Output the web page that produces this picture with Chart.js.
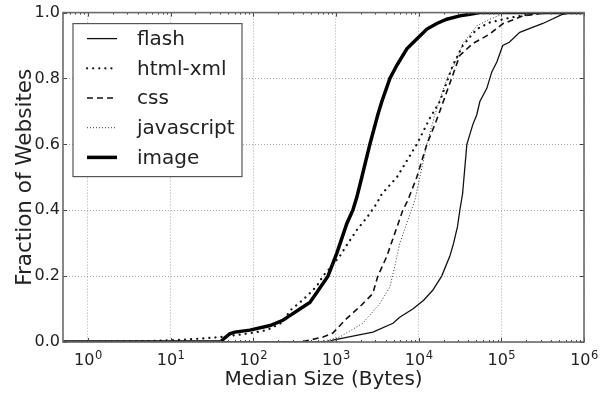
<!DOCTYPE html>
<html>
<head>
<meta charset="utf-8">
<script src="https://cdn.jsdelivr.net/npm/chart.js"></script>
<style>
  html, body { margin: 0; padding: 0; background: #fff; }
</style>
</head>
<body>
<canvas id="cdf" width="610" height="396"></canvas>
<script>
// Median object size per site (bytes) vs. cumulative fraction of websites
const seriesNames = ['flash', 'html-xml', 'css', 'javascript', 'image'];

const flashSize = [0.5, 800, 920, 1600, 2800, 4900, 5900, 8500, 11500, 14800, 19000, 23800, 26500, 29500, 31500, 34000, 38300, 45200, 50500, 55000, 66800, 76700, 88300, 104000, 125000, 167000, 318000, 554000, 700000, 1000000];
const flashFrac = [0, 0, 0.006, 0.018, 0.03, 0.057, 0.075, 0.1, 0.127, 0.157, 0.2, 0.26, 0.3, 0.35, 0.4, 0.45, 0.6, 0.66, 0.69, 0.73, 0.77, 0.82, 0.85, 0.9, 0.91, 0.94, 0.967, 0.995, 1, 1];

const htmlSize = [0.5, 4, 10, 22, 36, 57, 100, 146, 228, 277, 366, 470, 587, 695, 850, 1110, 1400, 1790, 2400, 3100, 3600, 5450, 9500, 13700, 18000, 19600, 25900, 34200, 50500, 72600, 130000, 221000, 400000, 1000000];
const htmlFrac = [0, 0.002, 0.005, 0.01, 0.014, 0.02, 0.028, 0.036, 0.06, 0.095, 0.12, 0.145, 0.17, 0.2, 0.225, 0.26, 0.3, 0.34, 0.38, 0.42, 0.45, 0.5, 0.6, 0.68, 0.73, 0.755, 0.84, 0.9, 0.95, 0.97, 0.985, 0.995, 1, 1];

const cssSize = [0.5, 380, 483, 700, 917, 1355, 1945, 2790, 3210, 4125, 5150, 6440, 7400, 9500, 12570, 15700, 18000, 23800, 31500, 45200, 72600, 104000, 182000, 355000, 1000000];
const cssFrac = [0, 0, 0.006, 0.015, 0.027, 0.072, 0.107, 0.147, 0.2, 0.26, 0.33, 0.4, 0.43, 0.5, 0.6, 0.66, 0.7, 0.785, 0.87, 0.906, 0.935, 0.966, 0.99, 1, 1];

const jsSize = [0.5, 650, 1110, 2115, 3400, 4490, 5150, 5920, 7400, 9000, 10340, 12570, 15700, 22000, 28000, 34200, 50500, 72600, 116000, 1000000];
const jsFrac = [0, 0, 0.015, 0.057, 0.117, 0.167, 0.23, 0.3, 0.37, 0.43, 0.5, 0.6, 0.69, 0.8, 0.85, 0.906, 0.96, 0.98, 1, 1];

const imageSize = [0.5, 40, 45, 52, 60, 91, 160, 228, 277, 366, 483, 587, 800, 1025, 1355, 1600, 1790, 2055, 2570, 3210, 3590, 4490, 5450, 7200, 9500, 12600, 16600, 21900, 31500, 41600, 55000, 1000000];
const imageFrac = [0, 0, 0.012, 0.025, 0.03, 0.036, 0.05, 0.066, 0.08, 0.1, 0.12, 0.15, 0.2, 0.27, 0.36, 0.4, 0.44, 0.5, 0.6, 0.69, 0.73, 0.8, 0.84, 0.89, 0.92, 0.95, 0.967, 0.98, 0.99, 0.995, 1, 1];

const xTickValues = [1, 10, 100, 1000, 10000, 100000, 1000000];
const xTickLabels = ['10^0', '10^1', '10^2', '10^3', '10^4', '10^5', '10^6'];
const yTickValues = [0, 0.2, 0.4, 0.6, 0.8, 1.0];
const yTickLabels = ['0.0', '0.2', '0.4', '0.6', '0.8', '1.0'];

const sizes = [flashSize, htmlSize, cssSize, jsSize, imageSize];
const fracs = [flashFrac, htmlFrac, cssFrac, jsFrac, imageFrac];

// line look for each content type
const lineStyles = [
  { color: '#111', width: 1.3, dash: [], cap: 'butt' },
  { color: '#111', width: 2.2, dash: [0.1, 6], cap: 'round' },
  { color: '#111', width: 1.6, dash: [6, 4], cap: 'butt' },
  { color: '#333', width: 1, dash: [1, 2], cap: 'butt' },
  { color: '#000', width: 3.5, dash: [], cap: 'butt' }
];

Chart.defaults.font.family = "'DejaVu Sans', sans-serif";
Chart.defaults.color = '#222';

const datasets = seriesNames.map((name, i) => ({
  label: name,
  data: sizes[i].map((v, j) => ({ x: v, y: fracs[i][j] })),
  showLine: true,
  borderColor: lineStyles[i].color,
  borderWidth: lineStyles[i].width,
  borderDash: lineStyles[i].dash,
  borderCapStyle: lineStyles[i].cap,
  pointRadius: 0,
  tension: 0,
  fill: false
}));

// frame, inward ticks, power-of-ten labels and the boxed legend
const framePlugin = {
  id: 'frame',
  afterDatasetsDraw(chart) {
    const { ctx, chartArea: a, scales: { x, y } } = chart;
    ctx.save();
    ctx.setLineDash([]);
    ctx.strokeStyle = '#444';
    ctx.lineWidth = 1;
    ctx.beginPath();
    for (let e = -1; e < 6; e++) {
      for (let m = 2; m <= 9; m++) {
        const v = m * Math.pow(10, e);
        if (v < x.min || v > x.max) continue;
        const px = Math.round(x.getPixelForValue(v)) + 0.5;
        ctx.moveTo(px, a.bottom); ctx.lineTo(px, a.bottom - 2);
        ctx.moveTo(px, a.top); ctx.lineTo(px, a.top + 2);
      }
    }
    xTickValues.forEach(v => {
      const px = Math.round(x.getPixelForValue(v)) + 0.5;
      ctx.moveTo(px, a.bottom); ctx.lineTo(px, a.bottom - 4);
      ctx.moveTo(px, a.top); ctx.lineTo(px, a.top + 4);
    });
    yTickValues.forEach(v => {
      const py = Math.round(y.getPixelForValue(v)) + 0.5;
      ctx.moveTo(a.left, py); ctx.lineTo(a.left + 4, py);
      ctx.moveTo(a.right, py); ctx.lineTo(a.right - 4, py);
    });
    ctx.stroke();

    ctx.strokeStyle = '#6a6a6a';
    ctx.lineWidth = 1.6;
    ctx.strokeRect(a.left, a.top, a.right - a.left, a.bottom - a.top);

    // x labels: base with a raised exponent
    ctx.fillStyle = '#222';
    ctx.textBaseline = 'alphabetic';
    xTickValues.forEach((v, i) => {
      const [base, exp] = xTickLabels[i].split('^');
      ctx.font = "16px 'DejaVu Sans'";
      const bw = ctx.measureText(base).width;
      ctx.font = "11.5px 'DejaVu Sans'";
      const ew = ctx.measureText(exp).width;
      const left = x.getPixelForValue(v) - (bw + ew) / 2;
      ctx.font = "16px 'DejaVu Sans'";
      ctx.fillText(base, left, a.bottom + 23);
      ctx.font = "11.5px 'DejaVu Sans'";
      ctx.fillText(exp, left + bw + 0.5, a.bottom + 17);
    });

    // legend
    const lx = a.left + 10, ly = a.top + 11, lw = 169, lh = 153;
    ctx.fillStyle = '#fff';
    ctx.fillRect(lx, ly, lw, lh);
    ctx.strokeStyle = '#555';
    ctx.lineWidth = 1.2;
    ctx.strokeRect(lx, ly, lw, lh);
    ctx.font = "20px 'DejaVu Sans'";
    ctx.textBaseline = 'middle';
    chart.data.datasets.forEach((ds, i) => {
      const ry = ly + 15 + i * 29.7;
      ctx.strokeStyle = ds.borderColor;
      ctx.lineWidth = ds.borderWidth;
      ctx.lineCap = ds.borderCapStyle;
      ctx.setLineDash(ds.borderDash);
      ctx.beginPath();
      ctx.moveTo(lx + 14, ry);
      ctx.lineTo(lx + 44, ry);
      ctx.stroke();
      ctx.setLineDash([]);
      ctx.lineCap = 'butt';
      ctx.fillStyle = '#222';
      ctx.fillText(ds.label, lx + 64, ry + 1);
    });
    ctx.restore();
  }
};

new Chart(document.getElementById('cdf'), {
  type: 'scatter',
  data: { datasets },
  options: {
    responsive: false,
    animation: false,
    layout: { padding: { top: 11, right: 26, left: 0, bottom: 0 } },
    plugins: { legend: { display: false }, tooltip: { enabled: false } },
    scales: {
      x: {
        type: 'logarithmic',
        min: 0.5,
        max: 1000000,
        afterBuildTicks: s => { s.ticks = xTickValues.map(v => ({ value: v })); },
        afterFit: s => { s.height = 54; },
        ticks: { display: false },
        grid: { color: '#aaa', lineWidth: 1, drawTicks: false },
        border: { display: false, dash: [1, 2] },
        title: { display: true, text: 'Median Size (Bytes)', font: { size: 20 }, padding: { top: 0, bottom: 4 } }
      },
      y: {
        min: 0,
        max: 1,
        afterBuildTicks: s => { s.ticks = yTickValues.map(v => ({ value: v })); },
        afterFit: s => { s.width = 63; },
        ticks: {
          padding: 3,
          font: { size: 16 },
          callback: v => yTickLabels[yTickValues.indexOf(v)]
        },
        grid: { color: '#aaa', lineWidth: 1, drawTicks: false },
        border: { display: false, dash: [1, 2] },
        title: { display: true, text: 'Fraction of Websites', font: { size: 21.5 }, padding: { top: 13, bottom: 0 } }
      }
    }
  },
  plugins: [framePlugin]
});
</script>
</body>
</html>
